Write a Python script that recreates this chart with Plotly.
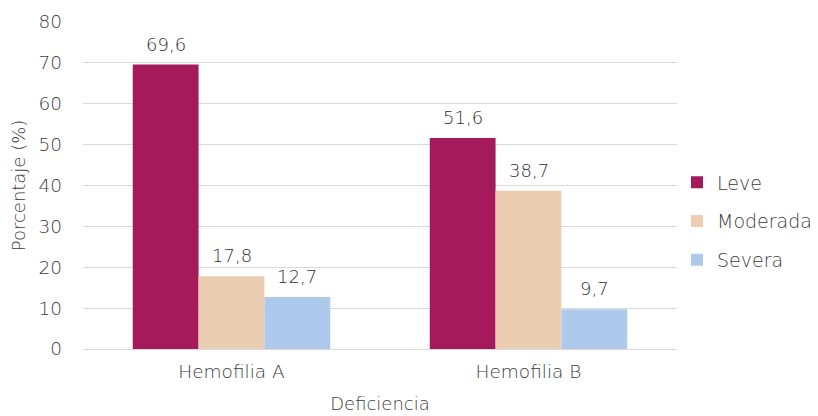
import plotly.graph_objects as go

categories = ["Hemofilia A", "Hemofilia B"]
series_names = ["Leve", "Moderada", "Severa"]
leve = [69.6, 51.6]
moderada = [17.8, 38.7]
severa = [12.7, 9.7]
colors = ["#A51A5B", "#EBCDB1", "#ADC9EC"]

BARGAP = 0.335
FONT = "DejaVu Sans, sans-serif"
TXT = "#3c3c3c"
all_series = [leve, moderada, severa]
bar_w = (1 - BARGAP) / len(all_series)

fig = go.Figure()
for j, (name, vals, col) in enumerate(zip(series_names, all_series, colors)):
    fig.add_trace(go.Bar(
        x=categories, y=vals, name=name, marker_color=col,
        marker_line_width=0, legendgroup=name,
    ))
    for i, v in enumerate(vals):
        fig.add_annotation(
            x=i + (j - (len(all_series) - 1) / 2) * bar_w, y=v,
            xref="x", yref="y", text=f"{v:.1f}".replace(".", ","),
            showarrow=False, yanchor="bottom", yshift=8,
            font=dict(size=18, color="#303030", family=FONT, weight=300),
        )

fig.update_layout(
    width=810, height=408,
    margin=dict(l=75, r=141, t=14, b=67, autoexpand=False),
    barmode="group", bargap=BARGAP, bargroupgap=0,
    plot_bgcolor="white", paper_bgcolor="white",
    font=dict(family=FONT, color=TXT, size=18, weight=300),
    legend=dict(x=1.0, y=0.39, yanchor="middle", xanchor="left",
                font=dict(size=19, color=TXT, family=FONT, weight=300),
                tracegroupgap=11, traceorder="grouped", itemwidth=30),
    xaxis=dict(title=dict(text="Deficiencia", font=dict(size=18, family=FONT, weight=300), standoff=16),
               showline=True, linecolor="#D9D9D9", linewidth=1, automargin=False,
               tickfont=dict(size=18.5, family=FONT, weight=300), ticks="", ticklabelstandoff=6),
    yaxis=dict(title=dict(text="Porcentaje (%)", font=dict(size=18, family=FONT, weight=300), standoff=12),
               range=[0, 80], dtick=10, gridcolor="#D9D9D9", gridwidth=1,
               zeroline=False, tickfont=dict(size=18.5, family=FONT, weight=300), ticks="", automargin=False,
               ticklabelstandoff=20),
)
fig.write_html("out.html")
